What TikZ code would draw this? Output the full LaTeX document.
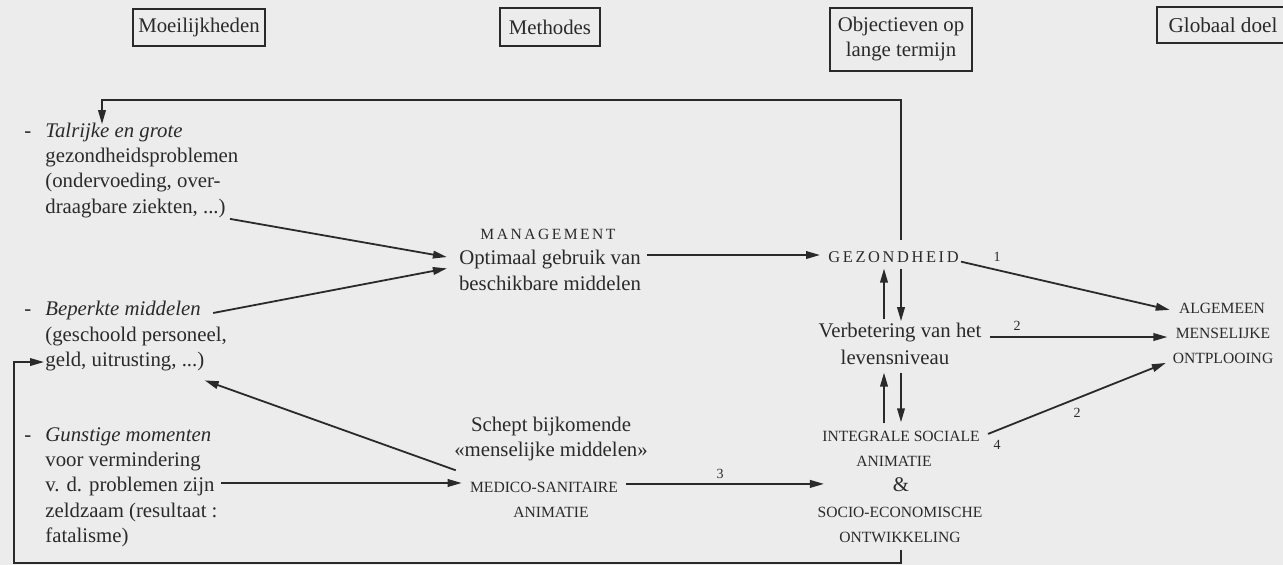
\documentclass[tikz,border=0pt]{standalone}
\usepackage{fontspec}
\setmainfont{Liberation Serif}
\newfontfamily\spacedfont[LetterSpace=16]{Liberation Serif}
\usetikzlibrary{arrows.meta,calc}
\definecolor{bg}{RGB}{236,236,236}
\definecolor{ink}{RGB}{42,42,42}
\tikzset{
  txt/.style={inner sep=0pt, anchor=base west, font=\fontsize{10.4}{13}\selectfont, text=ink},
  ctxt/.style={inner sep=0pt, anchor=base, font=\fontsize{10.4}{13}\selectfont, text=ink},
  caps/.style={inner sep=0pt, anchor=base, font=\fontsize{7.8}{10}\selectfont, text=ink},
  spaced/.style={inner sep=0pt, anchor=base west, font={\spacedfont\fontsize{7.8}{10}\selectfont}, text=ink},
  num/.style={inner sep=0pt, font=\fontsize{7}{8}\selectfont, text=ink},
  head/.style={draw=ink, line width=1pt, inner sep=0pt, font=\fontsize{10.4}{12.5}\selectfont, text=ink, align=center},
  conn/.style={draw=ink, line width=0.9pt, -{Triangle[length=7pt,width=3.8pt]}},
}
\begin{document}
\begin{tikzpicture}[x=0.5pt,y=-0.5pt]
\fill[bg] (0,0) rectangle (1283,565);
\useasboundingbox (0,0) rectangle (1283,565);

% headers
\node[head, minimum width=66pt, minimum height=18.5pt] (h1) at (199,27.5) {Moeilijkheden};
\node[head, minimum width=50pt, minimum height=19pt] (h2) at (550,27) {Methodes};
\node[head, minimum width=71pt, minimum height=31.5pt] (h3) at (901,39.5) {Objectieven op\\lange termijn};
\node[head, minimum width=66.5pt, minimum height=18pt, font=\fontsize{10.6}{12.5}\selectfont] (h4) at (1223,25) {Globaal doel};

% left column
\node[txt] (l1) at (45,138) {\llap{-\hspace{7pt}}\textit{Talrijke en grote}};
\node[txt] (l2) at (45,163) {gezondheidsproblemen};
\node[txt] (l3) at (45,188) {(ondervoeding, over-};
\node[txt] (l4) at (45,214) {draagbare ziekten, ...)};
\node[txt] (l5) at (45,316) {\llap{-\hspace{7pt}}\textit{Beperkte middelen}};
\node[txt] (l6) at (45,342) {(geschoold personeel,};
\node[txt] (l7) at (45,367) {geld, uitrusting, ...)};
\node[txt] (l8) at (45,442) {\llap{-\hspace{7pt}}\textit{Gunstige momenten}};
\node[txt] (l9) at (45,467) {voor vermindering};
\node[txt] (l10) at (45,492) {v. d. problemen zijn};
\node[txt] (l11) at (45,518) {zeldzaam (resultaat :};
\node[txt] (l12) at (45,543) {fatalisme)};

% methods column
\node[spaced] (mg) at (480,240) {MANAGEMENT};
\node[ctxt] (opt) at (550,265) {Optimaal gebruik van};
\node[ctxt] (bes) at (550,291) {beschikbare middelen};
\node[ctxt] (sch) at (551,432) {Schept bijkomende};
\node[ctxt] (mm) at (551,457) {«menselijke middelen»};
\node[caps] (med) at (544,493) {MEDICO-SANITAIRE};
\node[caps] (ani) at (551,518) {ANIMATIE};

% objectives column
\node[spaced, font={\spacedfont\fontsize{8.2}{10}\selectfont}] (gez) at (828,263) {GEZONDHEID};
\node[ctxt] (verb) at (900,338) {Verbetering van het};
\node[ctxt] (lev) at (895,365) {levensniveau};
\node[caps] (integ) at (901,442) {INTEGRALE SOCIALE};
\node[caps] (ani2) at (894,467) {ANIMATIE};
\node[ctxt] (amp) at (901,492) {\&};
\node[caps] (soc) at (900,517) {SOCIO-ECONOMISCHE};
\node[caps] (ont) at (900,543) {ONTWIKKELING};

% goal column
\node[caps] (alg) at (1222,314) {ALGEMEEN};
\node[caps] (mens) at (1223,339) {MENSELIJKE};
\node[caps] (ontp) at (1223,364) {ONTPLOOING};

% numbers
\node[num] (n1) at (997,257) {1};
\node[num] (n2) at (1017,326) {2};
\node[num] (n3) at (1077,413) {2};
\node[num] (n4) at (997,445) {4};
\node[num] (n5) at (720,474) {3};

% helper coordinates
\coordinate (tr) at (901,100);
\coordinate (tl) at (102,100);
\coordinate (cu) at (884,0);
\coordinate (bl) at (14,563);

% feedback top loop
\draw[conn] ($(gez.north -| tr)+(0,-12)$) -- (tr) -- (tl) -- ($(l1.north -| tl)+(0,1)$);
% bottom loop
\draw[conn] ($(ont.south -| tr)+(0,6)$) |- (bl) |- ($(l7.west)+(-1,0)$);

% into management
\draw[conn] ($(l4.south east)+(4,0)$) -- ($(opt.west)+(-12,-3)$);
\draw[conn] ($(l5.east)+(12,2)$) -- ($(opt.south west)+(-12,-1.5)$);
\draw[conn] ($(opt.east)+(6,-5)$) -- ($(opt.east -| gez.west)+(-8,-5)$);

% medico
\draw[conn] ($(l10.east)+(6,-4)$) -- ($(l10.east -| med.west)+(-8,-4)$);
\draw[conn] ($(med.north west)+(-14,-12)$) -- ($(l7.south east)+(0,8.5)$);
\draw[conn] ($(med.east)+(8,-4)$) -- ($(med.east -| integ.west)+(2,-4)$);

% vertical arrows
\draw[conn] ($(verb.north -| cu)+(0,-4)$) -- ($(gez.south -| cu)+(0,5)$);
\draw[conn] ($(gez.south -| tr)+(0,5)$) -- ($(verb.north -| tr)+(0,-2)$);
\draw[conn] ($(integ.north -| cu)+(0,-8)$) -- ($(lev.south -| cu)+(0,7)$);
\draw[conn] ($(lev.south -| tr)+(0,7)$) -- ($(integ.north -| tr)+(0,-9)$);

% to goal
\draw[conn] ($(gez.east)+(2,4)$) -- ($(alg.west)+(-9,1)$);
\draw[conn] ($(verb.east)+(8,4)$) -- ($(verb.east -| mens.west)+(-8,4)$);
\draw[conn] ($(integ.east)+(8,-3)$) -- ($(ontp.west)+(-6.5,4)$);
\end{tikzpicture}
\end{document}
